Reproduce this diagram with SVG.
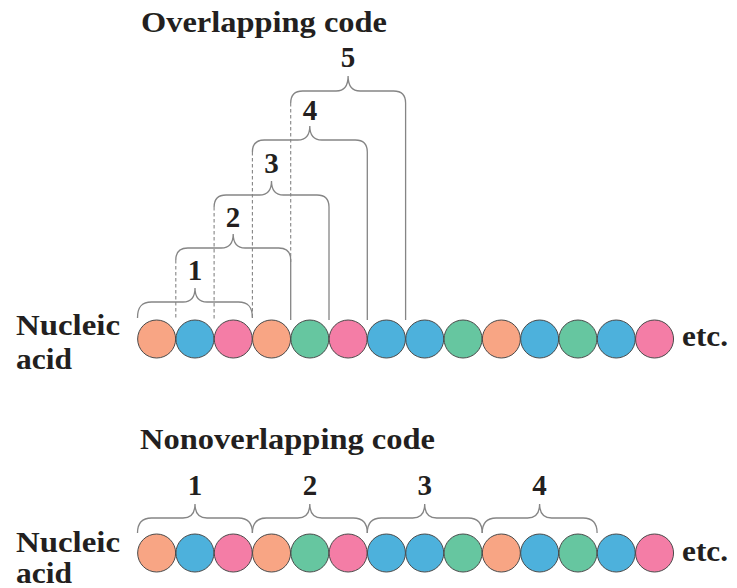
<svg xmlns="http://www.w3.org/2000/svg" width="737" height="588" viewBox="0 0 737 588">
<defs>
<style>
text{font-family:'Liberation Serif','Times New Roman',Times,serif;font-weight:700;fill:#231f20}
.ttl{font-size:29px}
.lbl{font-size:29px}
.num{font-size:29px;text-anchor:middle}
.br{fill:none;stroke:#858585;stroke-width:1.3}
.ds{fill:none;stroke:#858585;stroke-width:1.1;stroke-dasharray:3.5 2.5}
.c{stroke:#4a4a4a;stroke-width:1}
.o{fill:#F8A584}
.b{fill:#4DB1DC}
.p{fill:#F47DA6}
.g{fill:#66C6A0}
</style>
</defs>
<rect width="737" height="588" fill="#ffffff"/>

<g id="overlap-title"><text class="ttl" x="141" y="32" textLength="246" lengthAdjust="spacingAndGlyphs" font-family="Liberation Serif, serif">Overlapping code</text></g>
<g id="nonoverlap-title"><text class="ttl" x="140" y="449" textLength="295" lengthAdjust="spacingAndGlyphs" font-family="Liberation Serif, serif">Nonoverlapping code</text></g>

<g id="nucleic-top">
<text class="lbl" x="16" y="335" textLength="104" lengthAdjust="spacingAndGlyphs" font-family="Liberation Serif, serif">Nucleic</text>
<text class="lbl" x="16" y="369" textLength="56" lengthAdjust="spacingAndGlyphs" font-family="Liberation Serif, serif">acid</text>
</g>
<g id="nucleic-bottom">
<text class="lbl" x="16" y="552" textLength="104" lengthAdjust="spacingAndGlyphs" font-family="Liberation Serif, serif">Nucleic</text>
<text class="lbl" x="16" y="583" textLength="56" lengthAdjust="spacingAndGlyphs" font-family="Liberation Serif, serif">acid</text>
</g>
<g id="etc-top"><text class="lbl" x="682" y="346" textLength="46" lengthAdjust="spacingAndGlyphs" font-family="Liberation Serif, serif">etc.</text></g>
<g id="etc-bottom"><text class="lbl" x="682" y="561" textLength="46" lengthAdjust="spacingAndGlyphs" font-family="Liberation Serif, serif">etc.</text></g>

<g id="connectors">
<path class="br" d="M137.5,318 C137.5,307 141.5,302 151.5,302 L183,302 Q195,302 195,288 Q195,302 207,302 L238.4,302 C248.4,302 252.4,307 252.4,318"/>
<line class="ds" x1="175.8" y1="260" x2="175.8" y2="320"/>
<path class="br" d="M175.8,260 Q175.8,248 187.8,248 L221.2,248 Q233.2,248 233.2,234 Q233.2,248 245.2,248 L278.7,248 Q290.7,248 290.7,260 L290.7,320"/>
<line class="ds" x1="214.1" y1="207" x2="214.1" y2="320"/>
<path class="br" d="M214.1,207 Q214.1,195 226.1,195 L259.5,195 Q271.5,195 271.5,181 Q271.5,195 283.5,195 L317,195 Q329,195 329,207 L329,320"/>
<line class="ds" x1="252.4" y1="152" x2="252.4" y2="318"/>
<path class="br" d="M252.4,152 Q252.4,140 264.4,140 L297.8,140 Q309.8,140 309.8,126 Q309.8,140 321.8,140 L355.3,140 Q367.3,140 367.3,152 L367.3,320"/>
<line class="ds" x1="290.7" y1="103" x2="290.7" y2="262"/>
<path class="br" d="M290.7,103 Q290.7,91 302.7,91 L336.1,91 Q348.1,91 348.1,76 Q348.1,91 360.1,91 L393.6,91 Q405.6,91 405.6,103 L405.6,320"/>
<path class="br" d="M137.5,533 C137.5,523 141.5,518 151.5,518 L183,518 Q195,518 195,504 Q195,518 207,518 L238.4,518 C248.4,518 252.4,523 252.4,533"/>
<path class="br" d="M252.4,533 C252.4,523 256.4,518 266.4,518 L297.8,518 Q309.8,518 309.8,504 Q309.8,518 321.8,518 L353.3,518 C363.3,518 367.3,523 367.3,533"/>
<path class="br" d="M367.3,533 C367.3,523 371.3,518 381.3,518 L412.7,518 Q424.7,518 424.7,504 Q424.7,518 436.7,518 L468.2,518 C478.2,518 482.2,523 482.2,533"/>
<path class="br" d="M482.2,533 C482.2,523 486.2,518 496.2,518 L527.6,518 Q539.6,518 539.6,504 Q539.6,518 551.6,518 L583.1,518 C593.1,518 597.1,523 597.1,533"/>
</g>

<g id="overlap-labels">
<text class="num" x="195" y="280" font-family="Liberation Serif, serif">1</text>
<text class="num" x="233" y="227" font-family="Liberation Serif, serif">2</text>
<text class="num" x="271.5" y="173" font-family="Liberation Serif, serif">3</text>
<text class="num" x="310" y="120" font-family="Liberation Serif, serif">4</text>
<text class="num" x="348" y="67" font-family="Liberation Serif, serif">5</text>
</g>
<g id="nonoverlap-labels">
<text class="num" x="195" y="495" font-family="Liberation Serif, serif">1</text>
<text class="num" x="310" y="495" font-family="Liberation Serif, serif">2</text>
<text class="num" x="424.7" y="495" font-family="Liberation Serif, serif">3</text>
<text class="num" x="539.6" y="495" font-family="Liberation Serif, serif">4</text>
</g>

<g id="nucleic-acid-top">
<circle class="c o" cx="156.65" cy="339" r="19"/>
<circle class="c b" cx="194.95" cy="339" r="19"/>
<circle class="c p" cx="233.25" cy="339" r="19"/>
<circle class="c o" cx="271.55" cy="339" r="19"/>
<circle class="c g" cx="309.85" cy="339" r="19"/>
<circle class="c p" cx="348.15" cy="339" r="19"/>
<circle class="c b" cx="386.45" cy="339" r="19"/>
<circle class="c b" cx="424.75" cy="339" r="19"/>
<circle class="c g" cx="463.05" cy="339" r="19"/>
<circle class="c o" cx="501.35" cy="339" r="19"/>
<circle class="c b" cx="539.65" cy="339" r="19"/>
<circle class="c g" cx="577.95" cy="339" r="19"/>
<circle class="c b" cx="616.25" cy="339" r="19"/>
<circle class="c p" cx="654.55" cy="339" r="19"/>
</g>
<g id="nucleic-acid-bottom">
<circle class="c o" cx="156.65" cy="553" r="19"/>
<circle class="c b" cx="194.95" cy="553" r="19"/>
<circle class="c p" cx="233.25" cy="553" r="19"/>
<circle class="c o" cx="271.55" cy="553" r="19"/>
<circle class="c g" cx="309.85" cy="553" r="19"/>
<circle class="c p" cx="348.15" cy="553" r="19"/>
<circle class="c b" cx="386.45" cy="553" r="19"/>
<circle class="c b" cx="424.75" cy="553" r="19"/>
<circle class="c g" cx="463.05" cy="553" r="19"/>
<circle class="c o" cx="501.35" cy="553" r="19"/>
<circle class="c b" cx="539.65" cy="553" r="19"/>
<circle class="c g" cx="577.95" cy="553" r="19"/>
<circle class="c b" cx="616.25" cy="553" r="19"/>
<circle class="c p" cx="654.55" cy="553" r="19"/>
</g>
</svg>
